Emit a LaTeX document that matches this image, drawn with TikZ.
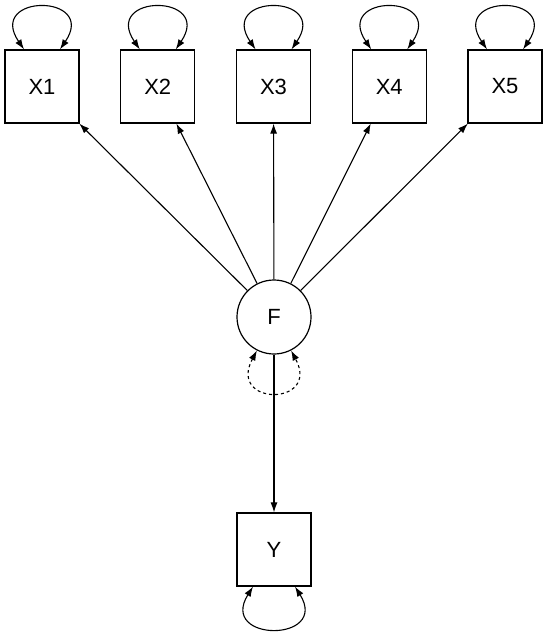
\documentclass[tikz,border=0pt]{standalone}
\usepackage{fontspec}
\setmainfont{Liberation Sans}
\usetikzlibrary{arrows.meta}

\begin{document}
\begin{tikzpicture}[x=1pt, y=-1pt,
    obs/.style={draw, line width=1.2pt, minimum width=74pt, minimum height=73pt, inner sep=0pt, font=\fontsize{22}{26}\selectfont},
    lat/.style={draw, circle, line width=1.2pt, minimum size=74pt, inner sep=0pt, font=\fontsize{22}{26}\selectfont},
    arrow/.style={-{Latex[length=10pt, width=7pt]}, line width=1.1pt},
    resid/.style={{Latex[length=10pt, width=7pt]}-{Latex[length=10pt, width=7pt]}, line width=1.1pt}
]
\useasboundingbox (0,0) rectangle (550,634);
\node[lat] (f) at (274,317) {F};
\node[obs] (y) at (274,549.5) {Y};
\foreach \i/\xpos in {1/42, 2/157.75, 3/273.5, 4/389.25, 5/505} {
    \node[obs] (x\i) at (\xpos,86.5) {X\i};
    \draw[arrow] (f) -- (x\i);
    \draw[resid] ([xshift=-18pt]x\i.north) .. controls +(-38,-56) and +(38,-56) .. ([xshift=18pt]x\i.north);
}
\draw[arrow] (f) -- (y);
\draw[resid, dashed] (f.-117) .. controls +(-30,56) and +(30,56) .. (f.-63);
\draw[resid] ([xshift=-21pt]y.south) .. controls +(-35,56) and +(35,56) .. ([xshift=21pt]y.south);
\end{tikzpicture}
\end{document}
